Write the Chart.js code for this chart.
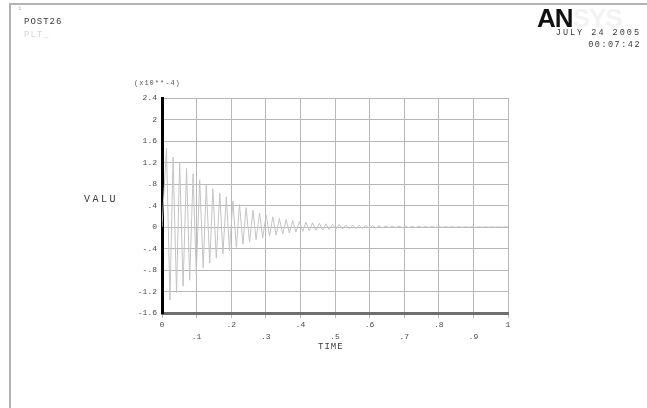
<!DOCTYPE html>
<html>
<head>
<meta charset="utf-8">
<script src="https://cdn.jsdelivr.net/npm/chart.js@4"></script>
<style>
  html, body { margin: 0; padding: 0; background: #fff; }
  #wrap { position: relative; width: 647px; height: 408px; overflow: hidden; }
  #frame { position: absolute; left: 9px; top: 3px; width: 640px; height: 410px;
           border-top: 2px solid #b4b4b4; border-left: 2px solid #b4b4b4; }
  .t { position: absolute; font-family: "Liberation Mono", monospace; color: #3a3a3a; white-space: nowrap; }
</style>
</head>
<body>
<div id="wrap">
  <canvas id="plot" width="647" height="408"></canvas>
  <div id="frame"></div>
  <div class="t" style="left:18px;top:5px;font-size:6px;color:#bbb;">1</div>
  <div class="t" style="left:24px;top:17px;font-size:9px;letter-spacing:1px;">POST26</div>
  <div class="t" style="left:24px;top:30px;font-size:9px;letter-spacing:1px;color:#d6d6d6;">PLT_</div>
  <div class="t" style="left:537px;top:3px;font-family:'Liberation Sans',sans-serif;font-weight:bold;font-size:26px;color:#111;letter-spacing:-1px;">AN<span style="color:#f3f3f3;">SYS</span></div>
  <div class="t" style="right:6px;top:28px;font-size:8.5px;letter-spacing:2px;">JULY 24 2005</div>
  <div class="t" style="right:6px;top:40px;font-size:8.5px;letter-spacing:1.5px;">00:07:42</div>
  <div class="t" style="left:84px;top:194px;font-size:10px;letter-spacing:2.5px;">VALU</div>
  <div class="t" style="left:318px;top:342px;font-size:9px;letter-spacing:1px;">TIME</div>
  <div class="t" style="left:134px;top:79px;font-size:7px;letter-spacing:1px;color:#555;">(x10**-4)</div>
</div>
<script>
// time history: start, then alternating peak / trough (x10**-4)
const times = [
  0,
  0.013, 0.023, 0.032, 0.042, 0.051, 0.061, 0.071, 0.080, 0.090, 0.099,
  0.109, 0.119, 0.128, 0.138, 0.147, 0.157, 0.167, 0.176, 0.186, 0.195,
  0.205, 0.215, 0.224, 0.234, 0.243, 0.253, 0.263, 0.272, 0.282, 0.291,
  0.301, 0.311, 0.320, 0.330, 0.339, 0.349, 0.359, 0.368, 0.378, 0.387,
  0.397, 0.407, 0.416, 0.426, 0.435, 0.445, 0.455, 0.464, 0.474, 0.483,
  0.493, 0.503, 0.512, 0.522, 0.531, 0.541, 0.551, 0.560, 0.570, 0.579,
  0.589, 0.599, 0.608, 0.618, 0.627, 0.637, 0.647, 0.656, 0.666, 0.675,
  0.685, 0.695, 0.704, 0.714, 0.723, 0.733, 0.743, 0.752, 0.762, 0.771,
  0.781, 0.791, 0.800, 0.810, 0.819, 0.829, 0.839, 0.848, 0.858, 0.867,
  0.877, 0.887, 0.896, 0.906, 0.915, 0.925, 0.935, 0.944, 0.954, 0.963,
  0.973, 0.983, 0.992, 1.000
];
const values = [
  0,
  1.47, -1.36, 1.30, -1.22, 1.20, -1.10, 1.09, -0.99, 0.99, -0.87,
  0.88, -0.76, 0.79, -0.67, 0.71, -0.58, 0.63, -0.50, 0.56, -0.44,
  0.48, -0.38, 0.42, -0.32, 0.36, -0.28, 0.31, -0.24, 0.26, -0.20,
  0.22, -0.17, 0.19, -0.15, 0.16, -0.13, 0.14, -0.11, 0.12, -0.095,
  0.10, -0.082, 0.09, -0.072, 0.08, -0.063, 0.07, -0.055, 0.06, -0.048,
  0.05, -0.042, 0.045, -0.037, 0.04, -0.032, 0.035, -0.028, 0.03, -0.025,
  0.027, -0.022, 0.024, -0.020, 0.021, -0.018, 0.019, -0.016, 0.017, -0.014,
  0.015, -0.013, 0.013, -0.011, 0.012, -0.010, 0.011, -0.009, 0.010, -0.008,
  0.009, -0.008, 0.008, -0.007, 0.007, -0.006, 0.006, -0.006, 0.006, -0.005,
  0.005, -0.005, 0.005, -0.004, 0.004, -0.004, 0.004, -0.003, 0.003, -0.003,
  0.003, -0.003, 0.003, 0
];
const xTickLabels = ["0", ".1", ".2", ".3", ".4", ".5", ".6", ".7", ".8", ".9", "1"];
const yTickLabels = ["-1.6", "-1.2", "-.8", "-.4", "0", ".4", ".8", "1.2", "1.6", "2", "2.4"];

const points = times.map((t, i) => ({ x: t, y: values[i] }));
const tickFont = { family: "Liberation Mono", size: 8 };

new Chart(document.getElementById("plot"), {
  type: "line",
  data: {
    datasets: [{
      data: points,
      borderColor: "#c4c4c4",
      borderWidth: 1,
      pointRadius: 0,
      tension: 0
    }]
  },
  options: {
    responsive: false,
    animation: false,
    events: [],
    layout: { padding: { left: 130, right: 139, top: 98, bottom: 55 } },
    plugins: { legend: { display: false }, tooltip: { enabled: false } },
    scales: {
      x: {
        type: "linear",
        min: 0,
        max: 1,
        afterFit: s => { s.height = 40; },
        ticks: {
          stepSize: 0.1,
          maxRotation: 0,
          autoSkip: false,
          padding: 1,
          color: "#4a4a4a",
          font: { ...tickFont, lineHeight: 1.5 },
          callback: (v, i) => (i % 2 ? ["", xTickLabels[i]] : xTickLabels[i])
        },
        grid: { color: "#b8b8b8", lineWidth: 1, tickLength: 5, drawTicks: true },
        border: { color: "#6e6e6e", width: 3 }
      },
      y: {
        min: -1.6,
        max: 2.4,
        afterFit: s => { s.width = 32; },
        ticks: {
          stepSize: 0.4,
          padding: 5,
          color: "#4a4a4a",
          font: tickFont,
          callback: (v, i) => yTickLabels[i]
        },
        grid: { color: "#b8b8b8", lineWidth: 1, drawTicks: false },
        border: { color: "#000", width: 3 }
      }
    }
  }
});
</script>
</body>
</html>
